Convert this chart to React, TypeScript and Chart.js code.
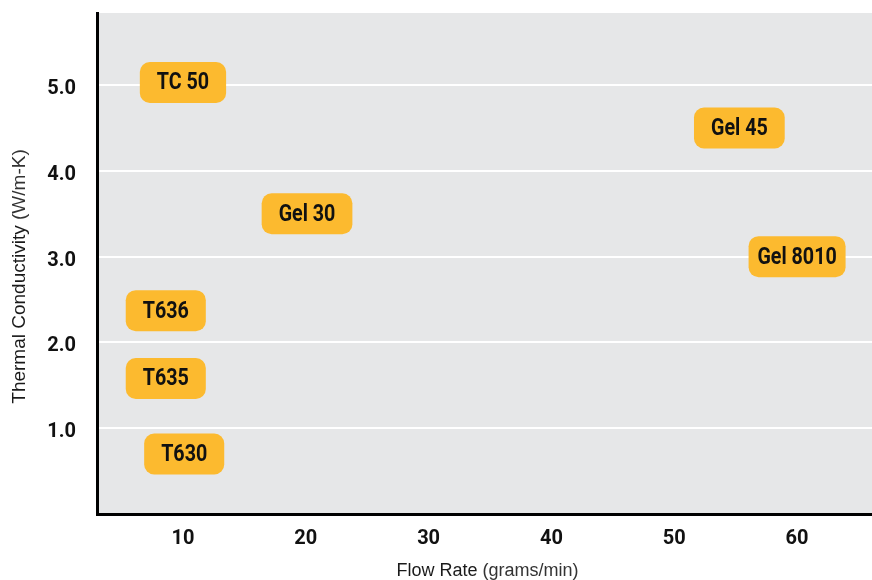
import React, { useEffect, useRef } from 'react';
import { Chart, registerables } from 'chart.js';

Chart.register(...registerables);

const products = ['TC 50', 'Gel 45', 'Gel 30', 'Gel 8010', 'T636', 'T635', 'T630'];
const flowRate = [10, 55.3, 20.1, 60, 8.6, 8.6, 10.1];
const conductivity = [5.03, 4.5, 3.5, 3.0, 2.37, 1.58, 0.7];
const xTicks = [10, 20, 30, 40, 50, 60];
const yTicks = [1, 2, 3, 4, 5];
const xTitle = ['Flow Rate', ' (grams/min)'];
const yTitle = ['Thermal Conductivity', ' (W/m-K)'];

const SANS = "'Liberation Sans', Arial, Helvetica, sans-serif";
const BOLD = "Roboto, 'Liberation Sans', sans-serif";

const plotBg = {
  id: 'plotBg',
  beforeDraw(chart: any) {
    const { ctx, chartArea: a } = chart;
    ctx.save();
    ctx.fillStyle = '#e6e7e8';
    ctx.fillRect(a.left, a.top, a.right - a.left, a.bottom - a.top);
    ctx.restore();
  },
};

const badges = {
  id: 'badges',
  afterDatasetsDraw(chart: any) {
    const { ctx } = chart;
    const meta = chart.getDatasetMeta(0);
    const squeeze = 0.82;
    ctx.save();
    ctx.font = `bold 24px ${BOLD}`;
    ctx.textAlign = 'center';
    ctx.textBaseline = 'middle';
    meta.data.forEach((pt: any, i: number) => {
      const label = products[i];
      const tw = ctx.measureText(label).width * squeeze;
      const w = Math.min(tw + 34, 97);
      const h = 41;
      const x = pt.x - w / 2;
      const y = pt.y - h / 2;
      ctx.fillStyle = '#fcba2f';
      ctx.beginPath();
      (ctx as any).roundRect(x, y, w, h, 10);
      ctx.fill();
      ctx.save();
      ctx.translate(pt.x, pt.y + 1);
      ctx.scale(squeeze, 1);
      ctx.fillStyle = '#111111';
      ctx.fillText(label, 0, 0);
      ctx.restore();
    });
    ctx.restore();
  },
};

function drawMixed(ctx: CanvasRenderingContext2D, parts: string[], cx: number, cy: number, size: number) {
  const fonts = [`500 ${size}px ${SANS}`, `${size}px ${SANS}`];
  const colors = ['#1a1a1a', '#333333'];
  const widths = parts.map((p, i) => {
    ctx.font = fonts[i];
    return ctx.measureText(p).width;
  });
  const total = widths.reduce((s, v) => s + v, 0);
  let x = cx - total / 2;
  ctx.textAlign = 'left';
  ctx.textBaseline = 'middle';
  parts.forEach((p, i) => {
    ctx.font = fonts[i];
    ctx.fillStyle = colors[i];
    ctx.fillText(p, x, cy);
    x += widths[i];
  });
}

const axisTitles = {
  id: 'axisTitles',
  afterDraw(chart: any) {
    const { ctx, chartArea: a } = chart;
    ctx.save();
    drawMixed(ctx, xTitle, (a.left + a.right) / 2 + 3, 571, 18);
    ctx.translate(20, (a.top + a.bottom) / 2 + 13);
    ctx.rotate(-Math.PI / 2);
    drawMixed(ctx, yTitle, 0, 0, 19);
    ctx.restore();
  },
};

export default function App() {
  const ref = useRef<HTMLCanvasElement | null>(null);

  useEffect(() => {
    if (!ref.current) return;
    const tickFont = { family: BOLD, size: 20, weight: 'bold' as const };
    const chart = new Chart(ref.current, {
      type: 'scatter',
      data: {
        datasets: [
          {
            label: 'Products',
            data: flowRate.map((x, i) => ({ x, y: conductivity[i] })),
            pointRadius: 0,
            pointHoverRadius: 0,
            backgroundColor: 'transparent',
            borderColor: 'transparent',
          },
        ],
      },
      options: {
        animation: false,
        responsive: false,
        maintainAspectRatio: false,
        layout: { padding: { top: 13, right: 0, bottom: 0, left: 0 } },
        plugins: {
          legend: { display: false },
          tooltip: { enabled: false },
          title: { display: false },
        },
        scales: {
          x: {
            type: 'linear',
            min: 3,
            max: 66.1,
            afterBuildTicks: (s: any) => {
              s.ticks = xTicks.map((v) => ({ value: v }));
            },
            afterFit: (s: any) => {
              s.height = 66;
              s.paddingLeft = 0;
              s.paddingRight = 0;
            },
            grid: { display: true, color: 'rgba(0,0,0,0)', drawTicks: false },
            border: { display: true, color: '#000000', width: 3 },
            ticks: {
              font: tickFont,
              color: '#111111',
              padding: 13,
              maxRotation: 0,
              callback: (v: any) => String(v),
            },
          },
          y: {
            type: 'linear',
            min: 0,
            max: 5.84,
            afterBuildTicks: (s: any) => {
              s.ticks = yTicks.map((v) => ({ value: v }));
            },
            afterFit: (s: any) => {
              s.width = 97;
              s.paddingTop = 0;
              s.paddingBottom = 0;
            },
            grid: { display: true, color: '#ffffff', lineWidth: 2, drawTicks: false },
            border: { display: true, color: '#000000', width: 3 },
            ticks: {
              font: tickFont,
              color: '#111111',
              padding: 21,
              labelOffset: 4,
              callback: (v: any) => Number(v).toFixed(1),
            },
          },
        },
      },
      plugins: [plotBg, badges, axisTitles],
    });
    return () => chart.destroy();
  }, []);

  return (
    <div style={{ position: 'absolute', left: 0, top: 0, width: 872, height: 580, background: '#ffffff' }}>
      <canvas ref={ref} width={872} height={580} style={{ width: 872, height: 580, display: 'block' }} />
    </div>
  );
}
